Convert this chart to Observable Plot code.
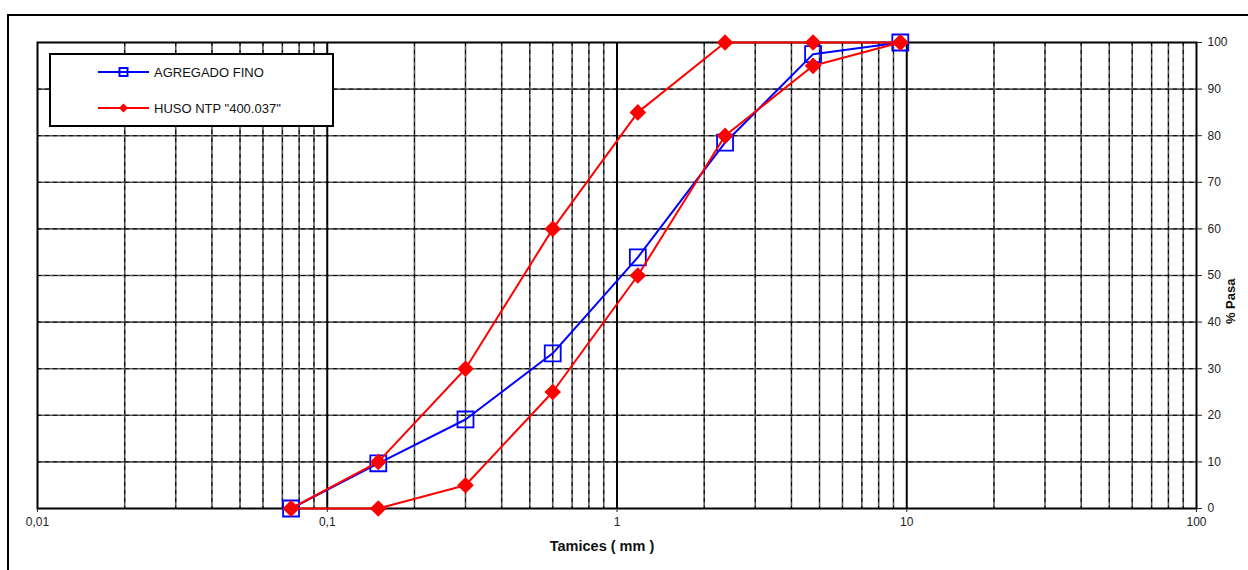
<!DOCTYPE html>
<html><head><meta charset="utf-8">
<script src="https://cdn.jsdelivr.net/npm/d3@7"></script>
<script src="https://cdn.jsdelivr.net/npm/@observablehq/plot@0.6"></script>
<style>
body{margin:0;background:#fff;width:1248px;height:570px;overflow:hidden;position:relative;font-family:"Liberation Sans",Arial,sans-serif;}
#frame{position:absolute;left:7px;top:14px;width:1300px;height:700px;border-left:2px solid #000;border-top:2px solid #000;}
#chart{position:absolute;left:0;top:0;}
#legend{position:absolute;left:49px;top:53px;width:281px;height:70px;border:2px solid #000;background:#fff;}
.row{position:absolute;left:0;height:20px;display:flex;align-items:center;font-size:13px;color:#111;}
.row svg{margin-left:47px;margin-right:5px;}
</style></head><body>
<div id="frame"></div>
<div id="chart"></div>
<div id="legend">
  <div class="row" style="top:7px"><svg width="51" height="20"><line x1="0" y1="10" x2="51" y2="10" stroke="#0000ff" stroke-width="2"/><rect x="21.5" y="6" width="8" height="8" fill="none" stroke="#0000ff" stroke-width="2"/></svg><span id="lg1"></span></div>
  <div class="row" style="top:43px"><svg width="51" height="20"><line x1="0" y1="10" x2="51" y2="10" stroke="#ff0000" stroke-width="2"/><path d="M25.5,5.5L30,10L25.5,14.5L21,10Z" fill="#ff0000"/></svg><span id="lg2"></span></div>
</div>
<script>
// ---- data ----
const sieves = [0.075, 0.15, 0.3, 0.6, 1.18, 2.36, 4.75, 9.5];
const agregadoFino = [0, 9.7, 19.1, 33.3, 53.9, 78.5, 97.5, 100];
const husoInferior = [0, 0, 5, 25, 50, 80, 95, 100];
const husoSuperior = [0, 10, 30, 60, 85, 100, 100, 100];
const seriesNames = ["AGREGADO FINO", 'HUSO NTP "400.037"'];
const xTicks = [0.01, 0.1, 1, 10, 100];
const xTickLabels = ["0,01", "0,1", "1", "10", "100"];
const yTicks = [0, 10, 20, 30, 40, 50, 60, 70, 80, 90, 100];
const xLabel = "Tamices ( mm )";
const yLabel = "% Pasa";

document.getElementById("lg1").textContent = seriesNames[0];
document.getElementById("lg2").textContent = seriesNames[1];

const fino = sieves.map((s, i) => ({x: s, y: agregadoFino[i]}));
const huso = sieves.map((s, i) => ({x: s, y: husoInferior[i]}))
  .concat(sieves.map((s, i) => ({x: s, y: husoSuperior[i]})).reverse());

const minorGrid = [0.01, 0.1, 1, 10].flatMap(d => [2,3,4,5,6,7,8,9].map(k => d * k));
const decadeGrid = xTicks.slice(1, -1);
const hGrid = yTicks.slice(1, -1);

const chart = Plot.plot({
  width: 1248, height: 570,
  marginLeft: 37, marginRight: 52, marginTop: 42, marginBottom: 62,
  x: {type: "log", domain: [0.01, 100]},
  y: {domain: [0, 100]},
  style: {fontFamily: "Liberation Sans, Arial, sans-serif", fontSize: "12px", color: "#222", background: "transparent"},
  marks: [
    Plot.ruleX(minorGrid, {stroke: "#555", strokeWidth: 1.6}),
    Plot.ruleY(hGrid, {stroke: "#555", strokeWidth: 1.6}),
    Plot.ruleX(minorGrid, {stroke: "#000", strokeWidth: 1, strokeDasharray: "4,4"}),
    Plot.ruleY(hGrid, {stroke: "#000", strokeWidth: 1, strokeDasharray: "4,4"}),
    Plot.ruleX(decadeGrid, {stroke: "#000", strokeWidth: 2}),
    Plot.frame({stroke: "#000", strokeWidth: 2}),
    Plot.axisX({ticks: xTicks, tickFormat: d => xTickLabels[xTicks.indexOf(d)], tickSize: 4, tickPadding: 5, label: null, fontSize: 12}),
    Plot.axisY({anchor: "right", ticks: yTicks, tickSize: 5, tickPadding: 6, label: null, fontSize: 12}),
    Plot.text([xLabel], {frameAnchor: "bottom", dx: -15, dy: 42, fontWeight: "bold", fontSize: 14.5, fill: "#111"}),
    Plot.text([yLabel], {frameAnchor: "right", dx: 34, dy: 3, rotate: -90, fontWeight: "bold", fontSize: 13, fill: "#111"}),
    Plot.line(fino, {x: "x", y: "y", stroke: "#0000ff", strokeWidth: 2}),
    Plot.dot(fino, {x: "x", y: "y", symbol: "square", r: 9, stroke: "#0000ff", strokeWidth: 1.8, fill: "none"}),
    Plot.line(huso, {x: "x", y: "y", stroke: "#ff0000", strokeWidth: 2}),
    Plot.dot(huso, {x: "x", y: "y", symbol: "diamond2", r: 7.5, fill: "#ff0000"})
  ]
});
document.getElementById("chart").appendChild(chart);
</script>
</body></html>
